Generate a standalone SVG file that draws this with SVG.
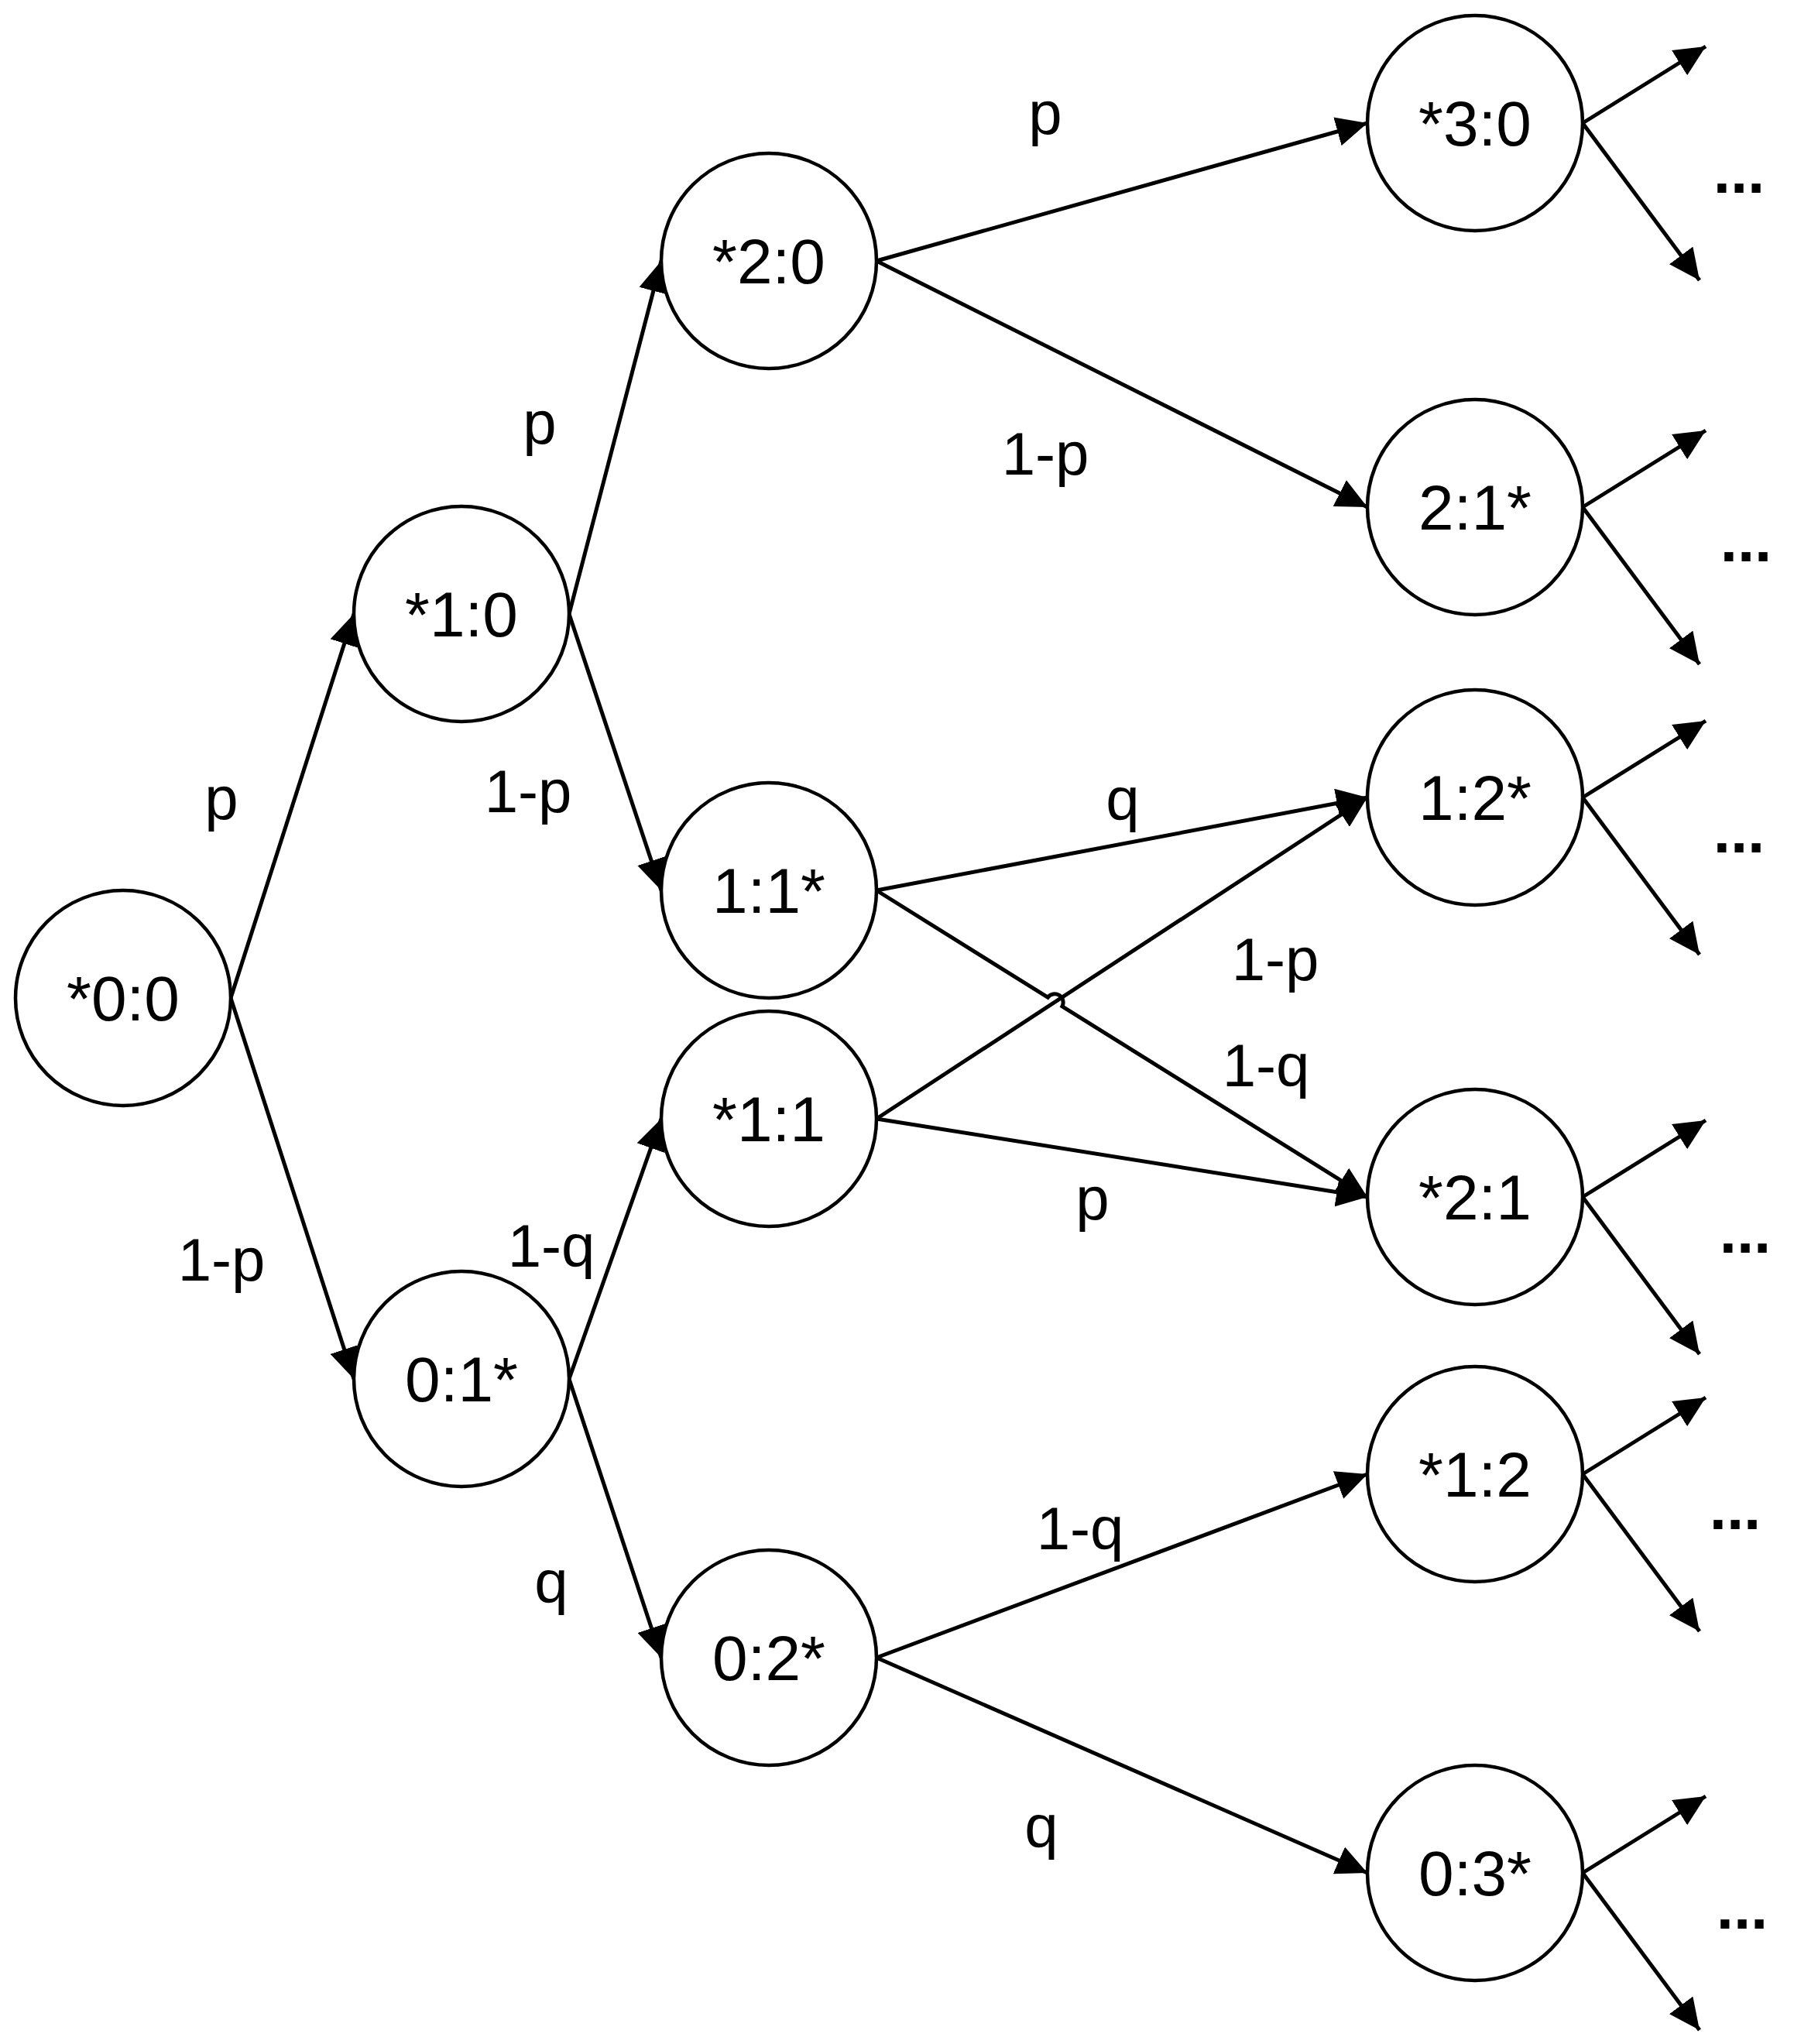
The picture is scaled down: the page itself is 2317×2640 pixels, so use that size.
<svg xmlns="http://www.w3.org/2000/svg" width="2317" height="2640" viewBox="0 0 2317 2640">
<style>
.node circle{fill:#fff;stroke:#000;stroke-width:4.5}
.node text{font-family:"Liberation Sans",Arial,sans-serif;font-size:82px;text-anchor:middle;fill:#000}
.edge{fill:none;stroke:#000;stroke-width:5}
.lbl{font-family:"Liberation Sans",Arial,sans-serif;font-size:78px;text-anchor:middle;fill:#000}
.dots{font-family:"Liberation Sans",Arial,sans-serif;font-size:80px;font-weight:bold;text-anchor:middle;fill:#000}
</style>
<defs>
<marker id="ah" markerUnits="userSpaceOnUse" markerWidth="40" markerHeight="38" refX="40" refY="19" orient="auto" viewBox="0 0 40 38">
<path d="M0,0 L40,19 L0,38 z" fill="#000"/>
</marker>
</defs>
<rect width="2317" height="2640" fill="#fff"/>
<g id="connectors">
<path class="edge" marker-end="url(#ah)" d="M298,1289 L457,793"/>
<path class="edge" marker-end="url(#ah)" d="M298,1289 L457,1781"/>
<path class="edge" marker-end="url(#ah)" d="M735,793 L854,337"/>
<path class="edge" marker-end="url(#ah)" d="M735,793 L854,1150"/>
<path class="edge" marker-end="url(#ah)" d="M735,1781 L854,1445"/>
<path class="edge" marker-end="url(#ah)" d="M735,1781 L854,2141"/>
<path class="edge" marker-end="url(#ah)" d="M1132,337 L1766,159"/>
<path class="edge" marker-end="url(#ah)" d="M1132,337 L1766,655"/>
<path class="edge" marker-end="url(#ah)" d="M1132,1150 L1766,1030"/>
<path class="edge" marker-end="url(#ah)" d="M1132,1150 L1353.3,1288.2 A11,11 0 0 1 1371.9,1299.8 L1766,1546"/>
<path class="edge" marker-end="url(#ah)" d="M1132,1445 L1766,1030"/>
<path class="edge" marker-end="url(#ah)" d="M1132,1445 L1766,1546"/>
<path class="edge" marker-end="url(#ah)" d="M1132,2141 L1766,1904"/>
<path class="edge" marker-end="url(#ah)" d="M1132,2141 L1766,2419"/>
<path class="edge" marker-end="url(#ah)" d="M2044,159 L2203,60"/>
<path class="edge" marker-end="url(#ah)" d="M2044,159 L2195,362"/>
<path class="edge" marker-end="url(#ah)" d="M2044,655 L2203,556"/>
<path class="edge" marker-end="url(#ah)" d="M2044,655 L2195,858"/>
<path class="edge" marker-end="url(#ah)" d="M2044,1030 L2203,931"/>
<path class="edge" marker-end="url(#ah)" d="M2044,1030 L2195,1233"/>
<path class="edge" marker-end="url(#ah)" d="M2044,1546 L2203,1447"/>
<path class="edge" marker-end="url(#ah)" d="M2044,1546 L2195,1749"/>
<path class="edge" marker-end="url(#ah)" d="M2044,1904 L2203,1805"/>
<path class="edge" marker-end="url(#ah)" d="M2044,1904 L2195,2107"/>
<path class="edge" marker-end="url(#ah)" d="M2044,2419 L2203,2320"/>
<path class="edge" marker-end="url(#ah)" d="M2044,2419 L2195,2622"/>
</g>
<g id="labels">
<text class="lbl" x="286" y="1058">p</text>
<text class="lbl" x="286" y="1654">1-p</text>
<text class="lbl" x="697" y="573">p</text>
<text class="lbl" x="682" y="1049">1-p</text>
<text class="lbl" x="712" y="1636">1-q</text>
<text class="lbl" x="712" y="2070">q</text>
<text class="lbl" x="1350" y="173">p</text>
<text class="lbl" x="1350" y="613">1-p</text>
<text class="lbl" x="1450" y="1059">q</text>
<text class="lbl" x="1647" y="1266">1-p</text>
<text class="lbl" x="1635" y="1403">1-q</text>
<text class="lbl" x="1411" y="1575">p</text>
<text class="lbl" x="1395" y="2001">1-q</text>
<text class="lbl" x="1345" y="2386">q</text>
<text class="dots" x="2246" y="249">...</text>
<text class="dots" x="2255" y="725">...</text>
<text class="dots" x="2246" y="1101">...</text>
<text class="dots" x="2254" y="1618">...</text>
<text class="dots" x="2241" y="1975">...</text>
<text class="dots" x="2250" y="2491">...</text>
</g>
<g id="n00" class="node"><circle cx="159" cy="1289" r="139"/><text x="159" y="1318">*0:0</text></g>
<g id="n10" class="node"><circle cx="596" cy="793" r="139"/><text x="596" y="822">*1:0</text></g>
<g id="n01" class="node"><circle cx="596" cy="1781" r="139"/><text x="596" y="1810">0:1*</text></g>
<g id="n20" class="node"><circle cx="993" cy="337" r="139"/><text x="993" y="366">*2:0</text></g>
<g id="n11a" class="node"><circle cx="993" cy="1150" r="139"/><text x="993" y="1179">1:1*</text></g>
<g id="n11b" class="node"><circle cx="993" cy="1445" r="139"/><text x="993" y="1474">*1:1</text></g>
<g id="n02" class="node"><circle cx="993" cy="2141" r="139"/><text x="993" y="2170">0:2*</text></g>
<g id="n30" class="node"><circle cx="1905" cy="159" r="139"/><text x="1905" y="188">*3:0</text></g>
<g id="n21a" class="node"><circle cx="1905" cy="655" r="139"/><text x="1905" y="684">2:1*</text></g>
<g id="n12a" class="node"><circle cx="1905" cy="1030" r="139"/><text x="1905" y="1059">1:2*</text></g>
<g id="n21b" class="node"><circle cx="1905" cy="1546" r="139"/><text x="1905" y="1575">*2:1</text></g>
<g id="n12b" class="node"><circle cx="1905" cy="1904" r="139"/><text x="1905" y="1933">*1:2</text></g>
<g id="n03" class="node"><circle cx="1905" cy="2419" r="139"/><text x="1905" y="2448">0:3*</text></g>
</svg>
